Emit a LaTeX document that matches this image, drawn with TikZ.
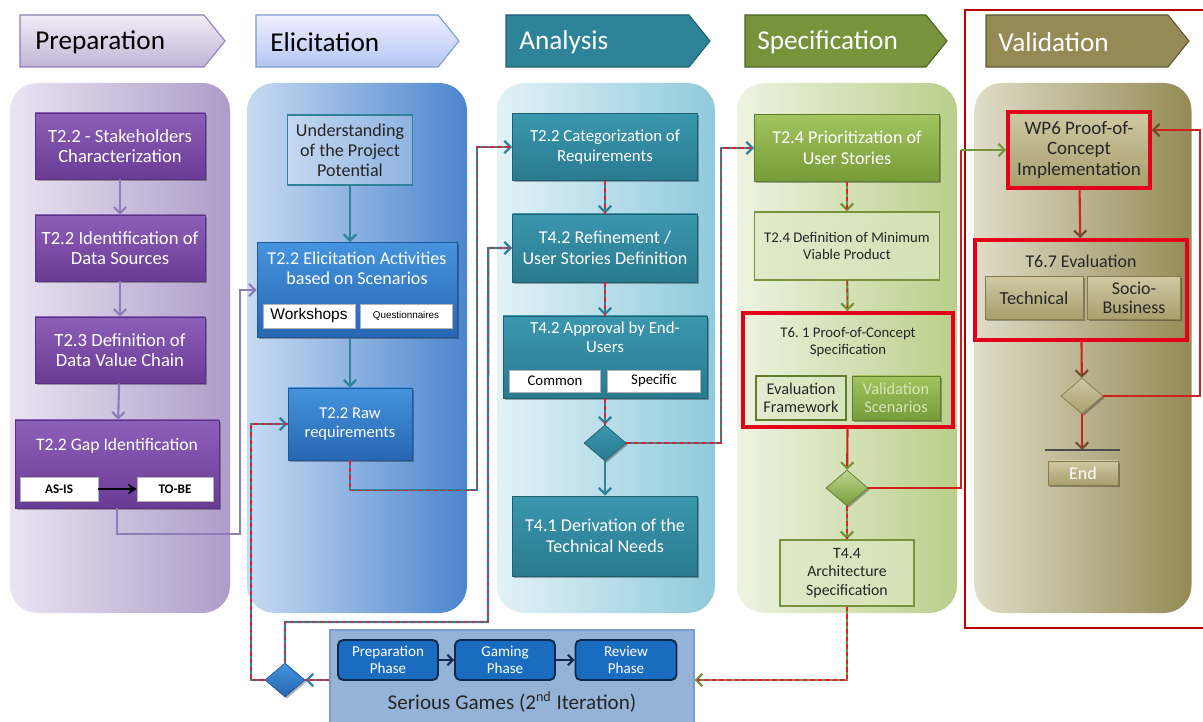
\documentclass[tikz,border=0pt]{standalone}
\usepackage{fontspec}
\setmainfont{Carlito}
\newfontfamily\arialf{Liberation Sans}
\usetikzlibrary{shapes.geometric,arrows.meta,shadows}
\newcommand{\pxu}{0.02cm}
\definecolor{purpT}{HTML}{8C5FB8}
\definecolor{purpB}{HTML}{6A3B95}
\definecolor{purpD}{HTML}{5A3280}
\definecolor{purpL}{HTML}{8E7DB8}
\definecolor{blueT}{HTML}{4593DE}
\definecolor{blueB}{HTML}{2766B2}
\definecolor{blueD}{HTML}{1F5796}
\definecolor{tealT}{HTML}{3A97AE}
\definecolor{tealB}{HTML}{2A7A8F}
\definecolor{tealD}{HTML}{205F70}
\definecolor{tealL}{HTML}{2E8398}
\definecolor{dashR}{HTML}{E0202F}
\definecolor{grnT}{HTML}{A3C45F}
\definecolor{grnB}{HTML}{779B38}
\definecolor{grnD}{HTML}{5F7D2B}
\definecolor{grnL}{HTML}{77933C}
\definecolor{lgrn}{HTML}{DCE8C4}
\definecolor{vsTxt}{HTML}{D7E4BD}
\definecolor{redF}{HTML}{E3001B}
\definecolor{redL}{HTML}{D0211F}
\definecolor{brnA}{HTML}{6E4B2A}
\definecolor{khT}{HTML}{CFC8A2}
\definecolor{khB}{HTML}{A89F6E}
\definecolor{khD}{HTML}{857C4E}
\definecolor{txt}{HTML}{262626}
\definecolor{pnPrepL}{HTML}{E9E4F1}
\definecolor{pnPrepR}{HTML}{AE9CC9}
\definecolor{pnElicL}{HTML}{C8DBF2}
\definecolor{pnElicR}{HTML}{4C85CE}
\definecolor{pnAnaL}{HTML}{E3F2F7}
\definecolor{pnAnaR}{HTML}{8FCADB}
\definecolor{pnSpecL}{HTML}{EEF3E2}
\definecolor{pnSpecR}{HTML}{B9CF8A}
\definecolor{pnValL}{HTML}{E0DCC8}
\definecolor{pnValR}{HTML}{948A55}
\definecolor{sgFill}{HTML}{95B3D7}
\definecolor{sgDraw}{HTML}{7A9CC8}
\definecolor{phFill}{HTML}{1A6CC0}
\definecolor{phDraw}{HTML}{13294B}
\begin{document}
\begin{tikzpicture}[x=0.02cm,y=-0.02cm,
  sz/.style 2 args={minimum width=#1*\pxu, minimum height=#2*\pxu, inner sep=0pt},
  shad/.style={drop shadow={shadow xshift=1pt,shadow yshift=-1pt,opacity=0.3,fill=black}},
  panel/.style={rounded corners=0.55cm, inner sep=0pt},
  hdrtext/.style={anchor=west, inner sep=0pt, font=\fontsize{15.5}{17}\selectfont},
  fa/.style={font=\fontsize{10.3}{11.5}\selectfont},
  fb/.style={font=\fontsize{9.6}{11}\selectfont},
  fc/.style={font=\fontsize{10.3}{11.8}\selectfont},
  fd/.style={font=\fontsize{8.4}{10}\selectfont},
  pbox/.style={shad, top color=purpT, bottom color=purpB, draw=purpD, line width=0.4pt, text=white, align=center, fa},
  ebox/.style={shad, top color=blueT, bottom color=blueB, draw=blueD, line width=0.4pt, text=white, align=center, fa},
  abox/.style={shad, top color=tealT, bottom color=tealB, draw=tealD, line width=0.4pt, text=white, align=center, fa},
  gbox/.style={shad, top color=grnT, bottom color=grnB, draw=grnD, line width=0.4pt, text=white, align=center, fa},
  lgbox/.style={fill=lgrn, fill opacity=0.7, text opacity=1, draw=grnL, line width=0.8pt, text=txt, align=center, fd},
  kbox/.style={shad, top color=khT, bottom color=khB, draw=khD, line width=0.4pt, text=txt, align=center, fa},
  wbox/.style={fill=white, draw=gray!60, line width=0.3pt, text=black},
  ttl/.style={inner sep=0pt, align=center},
  redframe/.style={draw=redF, line width=2.2pt},
  dia/.style={diamond, sz={42}{36}, shad},
  arr/.style={-{Straight Barb[length=3.5pt,width=7pt]}},
  pline/.style={arr, draw=purpL, line width=1.2pt},
  tline/.style={arr, draw=tealL, line width=1.3pt},
  trline/.style={tline, postaction={draw=dashR, line width=0.6pt, dash pattern=on 2.5pt off 1.8pt, arrows=-}},
  gline/.style={arr, draw=grnL, line width=1.3pt, postaction={draw=dashR, line width=0.6pt, dash pattern=on 2.5pt off 1.8pt, arrows=-}},
  rline/.style={-{Straight Barb[length=3.5pt,width=7pt,color=brnA]}, draw=redL, line width=1.2pt},
  phase/.style={rounded corners=3pt, fill=phFill, draw=phDraw, line width=1.1pt, text=white, align=center, font=\fontsize{8.6}{9.8}\selectfont},
]
\useasboundingbox (0,0) rectangle (1203,722);
\fill[white] (0,0) rectangle (1203,722);

% ---------- column panels ----------
\node[panel, left color=pnPrepL, right color=pnPrepR, sz={220}{530}] (panPrep) at (120,348) {};
\node[panel, left color=pnElicL, right color=pnElicR, sz={220}{530}] (panElic) at (357,348) {};
\node[panel, left color=pnAnaL, right color=pnAnaR, sz={218}{530}] (panAna) at (606,348) {};
\node[panel, left color=pnSpecL, right color=pnSpecR, sz={220}{530}] (panSpec) at (847,348) {};
\node[panel, left color=pnValL, right color=pnValR, sz={217}{530}] (panVal) at (1083,348) {};

% ---------- headers ----------
\path[top color=white!30!pnPrepL, bottom color=pnPrepR!75!white, draw=purpL, line width=0.6pt]
  (20,15) -- (204,15) -- (225,41) -- (204,67) -- (20,67) -- cycle;
\node[hdrtext, text=black] (hPrep) at (35,42) {Preparation};
\path[top color=blue!6!white, bottom color=pnElicL!90!blue, draw=sgDraw, line width=0.6pt]
  (256,15) -- (438,15) -- (459,41) -- (438,67) -- (256,67) -- cycle;
\node[hdrtext, text=black] (hElic) at (270,42) {Elicitation};
\path[fill=tealL, draw=tealD, line width=0.6pt]
  (506,15) -- (689,15) -- (710,41) -- (689,67) -- (506,67) -- cycle;
\node[hdrtext, text=white] (hAna) at (519,42) {Analysis};
\path[fill=grnL, draw=grnD!80!black, line width=0.6pt]
  (745,15) -- (926,15) -- (947,41) -- (926,67) -- (745,67) -- cycle;
\node[hdrtext, text=white] (hSpec) at (757,42) {Specification};
\path[fill=pnValR, draw=khD!70!black, line width=0.6pt]
  (986,15) -- (1168,15) -- (1189,41) -- (1168,67) -- (986,67) -- cycle;
\node[hdrtext, text=white] (hVal) at (998,42) {Validation};

% ---------- validation red frame ----------
\node[draw=red!75!black, line width=1.3pt, sz={250}{618}] (vframe) at (1090,319) {};

% ---------- Preparation ----------
\node[pbox, font=\fontsize{10.6}{11.6}\selectfont, sz={170}{66}] (p1) at (120,146) {T2.2 - Stakeholders\\Characterization};
\node[pbox, font=\fontsize{10.6}{11.6}\selectfont, sz={170}{66}] (p2) at (120,248) {T2.2 Identification of\\Data Sources};
\node[pbox, font=\fontsize{10.6}{11.6}\selectfont, sz={170}{66}] (p3) at (120,350) {T2.3 Definition of\\Data Value Chain};
\node[pbox, sz={204}{88}] (p4) at (117,464) {};
\node[ttl, text=white, font=\fontsize{10}{11}\selectfont] (p4t) at (117,446) {T2.2 Gap Identification};
\node[wbox, sz={78}{24}, font=\bfseries\fontsize{7.5}{8}\selectfont] (asis) at (59,489) {AS-IS};
\node[wbox, sz={76}{24}, font=\bfseries\fontsize{7.5}{8}\selectfont] (tobe) at (175,489) {TO-BE};
\draw[-{Stealth[length=5pt,width=6pt]}, line width=1.4pt] (asis) -- (tobe);
\draw[pline] (p1) -- (p2);
\draw[pline] (p2) -- (p3);
\draw[pline] (p3) -- (p4);

% ---------- Elicitation ----------
\node[draw=tealL, line width=1.1pt, fill=white, fill opacity=0.25, text opacity=1, text=txt, align=center, fa, sz={125}{70}] (e1) at (350,150) {Understanding\\of the Project\\Potential};
\node[ebox, sz={200}{95}] (e2) at (357,290) {};
\node[ttl, text=white, fa] (e2t) at (357,268) {T2.2 Elicitation Activities\\based on Scenarios};
\node[wbox, sz={92}{24}, font=\arialf\fontsize{8.8}{9}\selectfont] (ws) at (309,316) {Workshops};
\node[wbox, sz={92}{24}, font=\arialf\fontsize{5.6}{6}\selectfont] (qs) at (406,316) {Questionnaires};
\node[ebox, font=\fontsize{9.4}{11.2}\selectfont, sz={124}{72}] (e3) at (350,424) {T2.2 Raw\\requirements};
\draw[tline] (e1.south) -- (e1.south |- e2.north);
\draw[tline] (e2.south -| e3.north) -- (e3.north);
\draw[pline] (p4.south) -- ++(0,26) -| ([xshift=-0.34cm]e2.west) -- (e2.west);

% ---------- Analysis ----------
\node[abox, fb, sz={185}{67}] (a1) at (605,147) {T2.2 Categorization of\\Requirements};
\node[abox, fc, sz={185}{68}] (a2) at (605,248) {T4.2 Refinement /\\User Stories Definition};
\node[abox, sz={204}{82}] (a3) at (605,357) {};
\node[ttl, text=white, fb] (a3t) at (605,337) {T4.2 Approval by End-\\Users};
\node[wbox, sz={91}{22}, font=\fontsize{8.4}{9}\selectfont] (com) at (555,381) {Common};
\node[wbox, sz={93}{22}, font=\fontsize{8.4}{9}\selectfont] (spe) at (654,381) {Specific};
\node[dia, top color=tealT, bottom color=tealB, draw=tealD, line width=0.4pt] (d1) at (605,443) {};
\node[abox, fc, sz={185}{80}] (a4) at (605,536) {T4.1 Derivation of the\\Technical Needs};
\draw[trline] (e3.south) -- ++(0,30) -| ([xshift=-0.7cm]a1.west) -- (a1.west);
\draw[trline] (a1) -- (a2);
\draw[trline] (a2) -- (a3);
\draw[trline] (a3) -- (d1);
\draw[tline] (d1) -- (a4);

% ---------- Specification ----------
\node[gbox, fc, sz={185}{67}] (s1) at (847,148) {T2.4 Prioritization of\\User Stories};
\node[lgbox, sz={185}{68}] (s2) at (847,246) {T2.4 Definition of Minimum\\Viable Product};
\node[redframe, sz={210}{114}] (s3) at (848,370) {};
\node[ttl, text=txt, fd] (s3t) at (848,342) {T6.\ 1 Proof-of-Concept\\Specification};
\node[draw=grnD, line width=0.8pt, fill=lgrn, fill opacity=0.5, text opacity=1, text=txt, align=center, font=\fontsize{9.3}{10.6}\selectfont, sz={90}{44}] (ef) at (801,398) {Evaluation\\Framework};
\node[gbox, text=vsTxt, font=\fontsize{9.3}{10.6}\selectfont, sz={88}{44}] (vs) at (896,398) {Validation\\Scenarios};
\node[dia, top color=grnT!70!white, bottom color=grnB, draw=grnD, line width=0.4pt] (d2) at (847,488) {};
\node[lgbox, font=\fontsize{9}{10.6}\selectfont, sz={134}{66}] (s4) at (847,573) {T4.4\\Architecture\\Specification};
\draw[trline] (d1.east) -| ([xshift=-0.66cm]s1.west) -- (s1.west);
\draw[gline] (s1) -- (s2);
\draw[gline] (s2) -- (s3);
\draw[-{Straight Barb[length=3.5pt,width=7pt,color=grnL]}, draw=redL, line width=1.2pt] (s3) -- (d2);
\draw[gline] (d2) -- (s4);

% ---------- Validation ----------
\node[kbox, redframe, font=\fontsize{10.8}{11.8}\selectfont, sz={142}{76}] (v1) at (1079,150) {WP6 Proof-of-\\Concept\\Implementation};
\node[redframe, sz={212}{100}] (v2) at (1081,290) {};
\node[ttl, text=txt, font=\fontsize{10.2}{11}\selectfont] (v2t) at (1081,261) {T6.7 Evaluation};
\node[kbox, font=\fontsize{10.5}{11.5}\selectfont, sz={98}{43}] (tech) at (1034,298) {Technical};
\node[kbox, font=\fontsize{10.2}{11.2}\selectfont, sz={93}{43}] (sb) at (1134,298) {Socio-\\Business};
\node[dia, top color=khT, bottom color=khB, draw=khD, line width=0.4pt] (d3) at (1082,396) {};
\coordinate (barL) at (1045,450);
\coordinate (barR) at (1120,450);
\draw[draw=black!70, line width=1.3pt] (barL) -- (barR);
\node[kbox, text=white, font=\fontsize{10.2}{11}\selectfont, sz={70}{24}] (endn) at (1083,473) {End};
\draw[rline] (v1) -- (v2);
\draw[rline] (v2) -- (d3);
\draw[rline] (d3.south) -- (d3.south |- barL);
\draw[rline] (d3.east) -- (1200,396) |- ([yshift=0.4cm]v1.east);
\draw[draw=redL, line width=1.2pt] (d2.east) -| ([xshift=-0.9cm]v1.west) coordinate (c1);
\draw[arr, draw=grnL, line width=1.2pt] (c1) -- (v1.west);

% ---------- Serious games ----------
\node[fill=sgFill, draw=sgDraw, line width=0.8pt, sz={364}{100}] (sg) at (512,680) {};
\node[ttl, text=txt, font=\fontsize{12}{13}\selectfont] (sgt) at (512,702) {Serious Games (2\textsuperscript{nd} Iteration)};
\node[phase, sz={100}{40}] (ph1) at (388,660) {Preparation\\Phase};
\node[phase, sz={100}{40}] (ph2) at (505,660) {Gaming\\Phase};
\node[phase, sz={101}{40}] (ph3) at (626,660) {Review\\Phase};
\draw[-{Straight Barb[length=3pt,width=6pt]}, draw=phDraw, line width=1.2pt] (ph1) -- (ph2);
\draw[-{Straight Barb[length=3pt,width=6pt]}, draw=phDraw, line width=1.2pt] (ph2) -- (ph3);
\node[dia, top color=blueT, bottom color=blueB, draw=blueD, line width=0.4pt, sz={40}{34}] (d4) at (285,680) {};
\coordinate (w1) at (488,622);
\coordinate (w2) at (251,680);
\draw[gline] (s4.south) |- (sg.east);
\draw[trline] (sg.west) -- (d4.east);
\draw[trline] (d4.north) |- (w1) -- ([xshift=-0.48cm]a2.west) -- (a2.west);
\draw[trline] (d4.west) -- (w2) |- (e3.west);
\end{tikzpicture}
\end{document}
